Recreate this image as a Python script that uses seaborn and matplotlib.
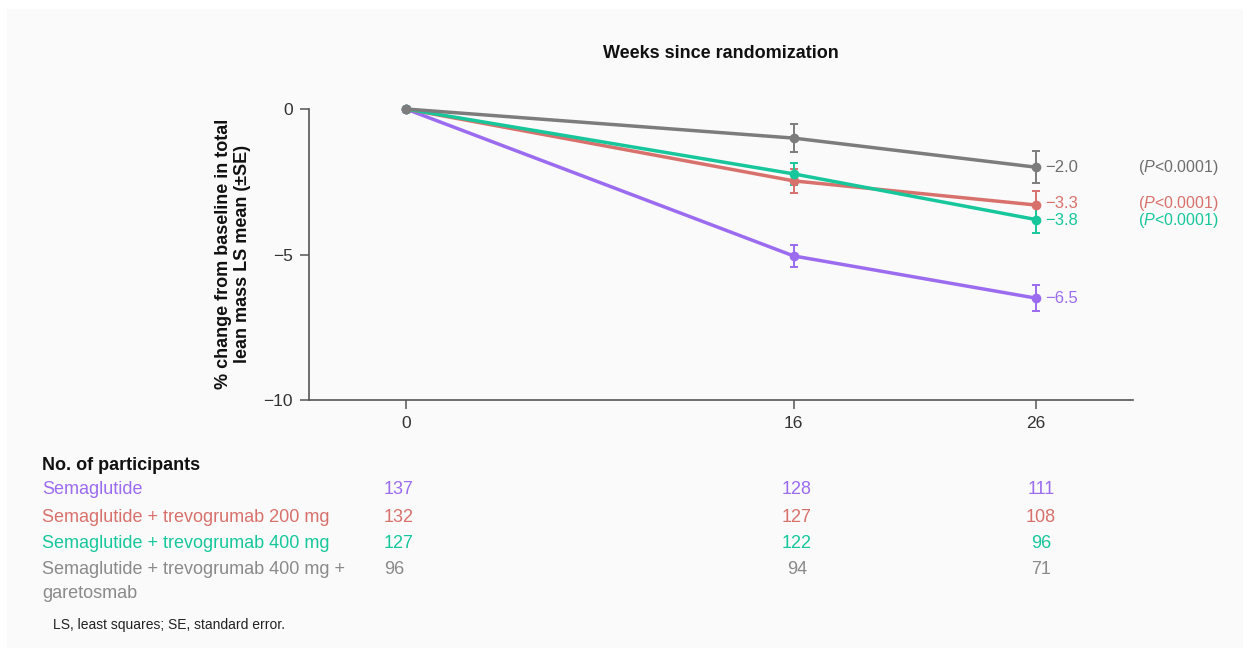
#!/usr/bin/env python3
# coding: utf-8
import numpy as np
import pandas as pd
import seaborn as sns
import matplotlib.pyplot as plt
from matplotlib.patches import Rectangle

# ------------------------------------------------
# Data
# ------------------------------------------------
weeks = [0, 16, 26]
groups = ["Semaglutide",
          "Semaglutide + trevogrumab 200 mg",
          "Semaglutide + trevogrumab 400 mg",
          "Semaglutide + trevogrumab 400 mg +\ngaretosmab"]

mean_sema = [0.0, -5.05, -6.5]
mean_t200 = [0.0, -2.47, -3.3]
mean_t400 = [0.0, -2.23, -3.8]
mean_t400_gar = [0.0, -1.0, -2.0]

se_sema = [0.0, 0.37, 0.45]
se_t200 = [0.0, 0.40, 0.47]
se_t400 = [0.0, 0.39, 0.47]
se_t400_gar = [0.0, 0.47, 0.54]

n_sema = [137, 128, 111]
n_t200 = [132, 127, 108]
n_t400 = [127, 122, 96]
n_t400_gar = [96, 94, 71]

end_labels = ["\u22126.5", "\u22123.3", "\u22123.8", "\u22122.0"]
p_labels = ["", "($\\mathit{P}$<0.0001)", "($\\mathit{P}$<0.0001)", "($\\mathit{P}$<0.0001)"]

colors = ["#9b6cf0", "#d8716c", "#17c79b", "#7c7c7c"]
text_colors = ["#9b6cf0", "#d8716c", "#17c79b", "#8a8a8a"]
end_colors = ["#9b6cf0", "#d8716c", "#17c79b", "#6e6e6e"]

means = [mean_sema, mean_t200, mean_t400, mean_t400_gar]
ses = [se_sema, se_t200, se_t400, se_t400_gar]
counts = [n_sema, n_t200, n_t400, n_t400_gar]

rows = []
for g, m, s in zip(groups, means, ses):
    for w, mv, sv in zip(weeks, m, s):
        rows.append({"Week": w, "Mean": mv, "SE": sv, "Group": g})
df = pd.DataFrame(rows)

# ------------------------------------------------
# Style
# ------------------------------------------------
sns.set_theme(style="white")
plt.rcParams['font.family'] = ['Liberation Sans', 'DejaVu Sans']
plt.rcParams['mathtext.fontset'] = 'custom'
plt.rcParams['mathtext.rm'] = 'Liberation Sans'
plt.rcParams['mathtext.it'] = 'Liberation Sans:italic'

W, H = 1248, 650
fig = plt.figure(figsize=(W / 100, H / 100), dpi=100)
fig.patch.set_facecolor("white")
fig.patches.append(Rectangle((7 / W, 1 - 648 / H), 1236 / W, 639 / H,
                             transform=fig.transFigure, facecolor="#fafafa",
                             edgecolor="none", zorder=-10))


def fx(px):
    return px / W


def fy(py):
    return 1 - py / H


ax = fig.add_axes([fx(309), fy(400), (1133 - 309) / W, (400 - 109) / H])
ax.set_facecolor("none")

# lines + markers
palette = dict(zip(groups, colors))
sns.lineplot(data=df, x="Week", y="Mean", hue="Group", palette=palette,
             hue_order=groups, marker="o", markersize=7, markeredgewidth=0,
             linewidth=2.5, legend=False, ax=ax, clip_on=False, zorder=3)

# SE error bars
for g, c in zip(groups, colors):
    sub = df[(df["Group"] == g) & (df["Week"] > 0)]
    ax.errorbar(sub["Week"], sub["Mean"], yerr=sub["SE"], fmt="none",
                ecolor=c, elinewidth=1.4, capsize=3.2, capthick=1.4,
                zorder=2, clip_on=False)

ax.set_xlim(-4, 30)
ax.set_ylim(-10, 0)
ax.set_xticks(weeks)
ax.set_yticks([0, -5, -10])
ax.set_yticklabels(["0", "\u22125", "\u221210"])
ax.tick_params(axis="both", which="major", direction="out", length=6.5,
               width=1.1, color="#555555", labelsize=12.5,
               labelcolor="#333333", left=True, bottom=True)
ax.tick_params(axis="x", pad=5)
ax.tick_params(axis="y", pad=5)
for side in ["top", "right"]:
    ax.spines[side].set_visible(False)
for side in ["left", "bottom"]:
    ax.spines[side].set_color("#555555")
    ax.spines[side].set_linewidth(1.2)
ax.set_xlabel("")
ax.set_ylabel("")

# end labels (small vertical nudges keep the two close P labels apart)
nudges = [0, 1.0, -1.0, 0]
for lab, pl, m, ec, dy in zip(end_labels, p_labels, means, end_colors, nudges):
    ax.annotate(lab, xy=(26, m[-1]), xytext=(6.5, dy), textcoords="offset points",
                va="center", ha="left", fontsize=12, color=ec,
                annotation_clip=False)
    if pl:
        ax.annotate(pl, xy=(30.2, m[-1]), xytext=(0, dy), textcoords="offset points",
                    va="center", ha="left", fontsize=11.5, color=ec,
                    annotation_clip=False)

# title and y label
fig.text(fx(721), fy(53), "Weeks since randomization", ha="center", va="center",
         fontsize=13, fontweight="bold", color="#111111")
fig.text(fx(233), fy(254), "% change from baseline in total\nlean mass LS mean (\u00b1SE)",
         rotation=90, ha="center", va="center", fontsize=13, fontweight="bold",
         color="#111111", linespacing=1.15, multialignment="center")

# participants table
fig.text(fx(42), fy(465), "No. of participants", ha="left", va="center",
         fontsize=13, fontweight="bold", color="#111111")
row_y = [490, 517, 543, 569]
col_x = [384, 797, 1041]
col_ha = ["left", "center", "center"]
for g, cnt, tc, yy in zip(groups, counts, text_colors, row_y):
    if "\n" in g:
        fig.text(fx(42), fy(yy - 8), g, ha="left", va="top",
                 fontsize=13, color=tc, linespacing=1.52)
    else:
        fig.text(fx(42), fy(yy), g, ha="left", va="center", fontsize=13, color=tc)
    for n, xx, ha in zip(cnt, col_x, col_ha):
        fig.text(fx(xx), fy(yy), str(n), ha=ha, va="center", fontsize=13, color=tc)

fig.text(fx(53), fy(625), "LS, least squares; SE, standard error.", ha="left",
         va="center", fontsize=10, color="#222222")

plt.savefig("out.png", dpi=100)
plt.close(fig)
